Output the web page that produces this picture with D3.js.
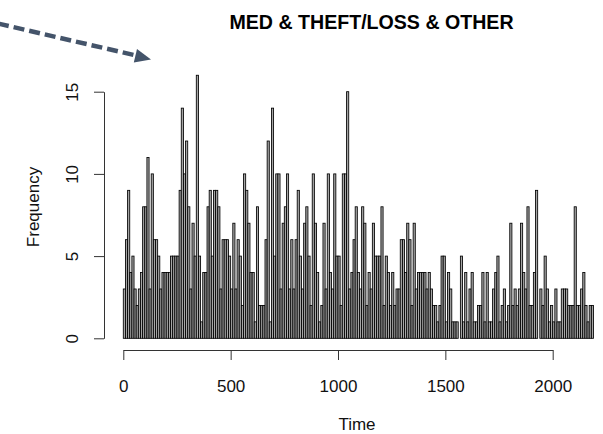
<!DOCTYPE html>
<html>
<head>
<meta charset="utf-8">
<script src="https://cdn.jsdelivr.net/npm/d3@7"></script>
<style>
  body { margin: 0; background: #fff; }
  svg { display: block; font-family: "Liberation Sans", Arial, sans-serif; }
</style>
</head>
<body>
<svg id="chart" width="603" height="434"></svg>
<script>
// histogram counts, one per 10-unit bin starting at 0
const binWidth = 10;
const counts = [
  3, 6, 9, 4, 5, 3, 2, 3, 4, 8,
  8, 11, 3, 10, 6, 6, 5, 3, 4, 4,
  4, 4, 5, 5, 5, 5, 9, 14, 10, 12,
  8, 3, 7, 5, 16,
  5, 1, 4, 4, 8, 9, 5, 9, 9, 8,
  3, 6, 6, 6, 5, 3, 7, 3, 6, 5,
  2, 10, 9, 7, 4, 4, 1, 8, 2, 2,
  2, 6, 12, 1, 14, 5, 10,
  10, 3, 7, 8, 10, 3, 6, 3, 6, 9,
  5, 3, 7, 8, 5, 2, 10, 7, 4, 1,
  2, 7, 3, 10, 4, 3, 10, 5, 5, 2,
  10, 10, 15, 3, 4, 6, 8, 4,
  3, 8, 7, 2, 4, 3, 7, 5, 5, 5,
  8, 2, 5, 4, 2, 4, 2, 3, 3, 6,
  6, 4, 7, 6, 2, 7, 3, 4, 4, 4,
  4, 3, 4, 3, 2, 2, 1,
  2, 5, 5, 1, 4, 3, 1, 1, 1, 0,
  5, 1, 4, 1, 3, 4, 1, 1, 2, 2,
  4, 1, 4, 1, 1, 3, 4, 5, 1, 2,
  3, 1, 2, 7, 2, 3, 2,
  3, 7, 4, 3, 8, 2, 2, 4, 9, 0,
  3, 2, 5, 3, 1, 2, 1, 3, 1, 1,
  3, 3, 3, 2, 2, 2, 8, 2, 2, 3,
  4, 2, 1, 2, 2
];
const xTicks = [0, 500, 1000, 1500, 2000];
const yTicks = [0, 5, 10, 15];
const title = "MED & THEFT/LOSS & OTHER";
const xLabel = "Time";
const yLabel = "Frequency";

const svg = d3.select("#chart");

// plot frame (R style, axes only up to last pretty tick)
const x = d3.scaleLinear().domain([0, 2000]).range([123.3, 552.7]);
const y = d3.scaleLinear().domain([0, 15]).range([338.3, 91.7]);
const axisY = 350;
const axisX = 104;

const bins = counts.map((c, i) => ({ x0: i * binWidth, x1: (i + 1) * binWidth, n: c }));

svg.append("g")
  .attr("class", "bars")
  .selectAll("rect")
  .data(bins)
  .enter().append("rect")
    .attr("x", d => x(d.x0))
    .attr("width", d => x(d.x1) - x(d.x0))
    .attr("y", d => y(d.n))
    .attr("height", d => y(0) - y(d.n))
    .attr("fill", "#a6a6a6")
    .attr("stroke", "#000")
    .attr("stroke-width", 0.85);

// x axis
const gx = svg.append("g")
  .attr("transform", `translate(0,${axisY})`)
  .call(d3.axisBottom(x).tickValues(xTicks).tickFormat(d3.format("d"))
    .tickSize(10).tickSizeOuter(0).tickPadding(20));
gx.select(".domain").attr("stroke", "#333");
gx.selectAll(".tick line").attr("stroke", "#333");
gx.selectAll("text").attr("font-size", 17).attr("fill", "#111")
  .attr("font-family", "Liberation Sans, Arial, sans-serif");

// y axis
const gy = svg.append("g")
  .attr("transform", `translate(${axisX},0)`)
  .call(d3.axisLeft(y).tickValues(yTicks).tickSize(10).tickSizeOuter(0));
gy.select(".domain").attr("stroke", "#333");
gy.selectAll(".tick line").attr("stroke", "#333");
gy.selectAll("text")
  .attr("x", null).attr("dy", null)
  .attr("text-anchor", "middle")
  .attr("transform", "translate(-26,0) rotate(-90)")
  .attr("font-size", 17).attr("fill", "#111")
  .attr("font-family", "Liberation Sans, Arial, sans-serif");

// labels
svg.append("text")
  .attr("x", 371.5).attr("y", 29)
  .attr("text-anchor", "middle")
  .attr("font-size", 19.6).attr("font-weight", "bold")
  .text(title);

svg.append("text")
  .attr("x", 357).attr("y", 430)
  .attr("text-anchor", "middle")
  .attr("font-size", 17).attr("fill", "#111")
  .text(xLabel);

svg.append("text")
  .attr("transform", "translate(39,207) rotate(-90)")
  .attr("text-anchor", "middle")
  .attr("font-size", 17).attr("fill", "#111")
  .text(yLabel);

// dashed callout arrow coming in from the left
const arrowColor = "#44546a";
svg.append("line")
  .attr("x1", -2).attr("y1", 23.5)
  .attr("x2", 136).attr("y2", 55.5)
  .attr("stroke", arrowColor)
  .attr("stroke-width", 4.5)
  .attr("stroke-dasharray", "11,5");
svg.append("path")
  .attr("d", "M151,59.5 L133.8,62.6 L137,49 Z")
  .attr("fill", arrowColor);
</script>
</body>
</html>
